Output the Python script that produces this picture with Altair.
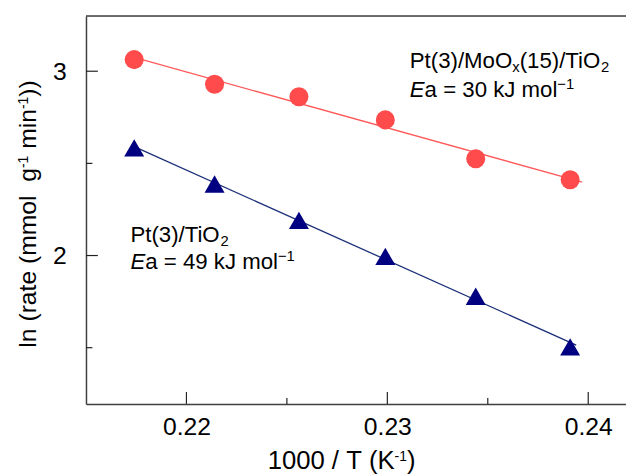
import altair as alt
import pandas as pd

# ---------------- data ----------------
inv_T = [0.2174, 0.2214, 0.2256, 0.2299, 0.2344, 0.2391]          # 1000 / T (K^-1)
ln_rate_moox = [3.063, 2.929, 2.861, 2.736, 2.525, 2.411]          # Pt(3)/MoOx(15)/TiO2
ln_rate_tio2 = [2.584, 2.388, 2.191, 1.995, 1.779, 1.504]          # Pt(3)/TiO2
fit_extent_moox = [0.2174, 0.2397]
fit_extent_tio2 = [0.2174, 0.2394]
x_major = [0.22, 0.23, 0.24]
x_minor = [0.225, 0.235]
y_major = [2, 3]
y_minor = [1.5, 2.5]
x_domain = [0.215, 0.24188]
y_domain = [1.195, 3.3]

# ---------------- layout / style ----------------
W, H = 547, 393
FONT = "Liberation Sans"
RED, RED_LINE = "#FF4B4B", "#FF5A5A"
BLUE, BLUE_LINE = "#000080", "#1A2F78"
FRAME = "#404040"

# Arial / Liberation Sans advance widths (units per 1000)
AW = {' ': 278, '(': 333, ')': 333, '/': 278, '.': 278, '=': 584, '-': 333, '\u2212': 584,
      '0': 556, '1': 556, '2': 556, '3': 556, '4': 556, '5': 556, '9': 556,
      'E': 667, 'J': 500, 'K': 667, 'M': 833, 'O': 778, 'P': 667, 'T': 611,
      'a': 556, 'e': 556, 'g': 556, 'i': 222, 'k': 500, 'l': 222, 'm': 833,
      'n': 556, 'o': 556, 'r': 333, 't': 278, 'x': 500}


def tw(s, size):
    return sum(AW.get(c, 556) for c in s) * size / 1000.0


def rich(pieces, x, y, angle=0):
    """pieces: list of (text, size, italic, dy). Each word is drawn as its own
    text mark so that no whitespace is collapsed by the SVG renderer."""
    layers = []
    off = 0.0
    for text, size, italic, dy in pieces:
        word = ""
        start = off
        for ch in text + "\0":
            if ch in (" ", "\0"):
                if word:
                    kw = dict(text=word, align="left", baseline="alphabetic", font=FONT,
                              fontSize=size, fontStyle="italic" if italic else "normal",
                              color="#000000", dx=start, dy=dy)
                    if angle:
                        kw["angle"] = angle
                    layers.append(
                        alt.Chart(alt.Data(values=[{}])).mark_text(**kw).encode(
                            x=alt.value(x), y=alt.value(y)))
                    off = start + tw(word, size)
                    word = ""
                if ch == " ":
                    off += tw(" ", size)
                start = off
            else:
                word += ch
    return layers


xs = alt.Scale(domain=x_domain, nice=False, zero=False)
ys = alt.Scale(domain=y_domain, nice=False, zero=False)
xaxis = alt.Axis(values=x_major, format=".2f", title=None, grid=False, ticks=False, tickSize=0,
                 labelFontSize=25, labelFont=FONT, labelColor="#000000", labelPadding=11,
                 domainColor=FRAME, domainWidth=1.5, labelFlush=False)
yaxis = alt.Axis(values=y_major, format="d", title=None, grid=False, ticks=False, tickSize=0,
                 labelFontSize=25, labelFont=FONT, labelColor="#000000", labelPadding=20,
                 domainColor=FRAME, domainWidth=1.5)

df_moox = pd.DataFrame({"x": inv_T, "y": ln_rate_moox})
df_tio2 = pd.DataFrame({"x": inv_T, "y": ln_rate_tio2})

X = alt.X("x:Q", scale=xs, axis=xaxis)
Y = alt.Y("y:Q", scale=ys, axis=yaxis)

line_moox = alt.Chart(df_moox).transform_regression(
    "x", "y", extent=fit_extent_moox).mark_line(color=RED_LINE, strokeWidth=1.3).encode(x=X, y=Y)
line_tio2 = alt.Chart(df_tio2).transform_regression(
    "x", "y", extent=fit_extent_tio2).mark_line(color=BLUE_LINE, strokeWidth=1.3).encode(x=X, y=Y)

pts_moox = alt.Chart(df_moox).mark_point(shape="circle", filled=True, size=372,
                                         color=RED, opacity=1).encode(x=X, y=Y)
pts_tio2 = alt.Chart(df_tio2).mark_point(shape="triangle-up", filled=True, size=410,
                                         color=BLUE, opacity=1).encode(x=X, y=Y)

# inward ticks
xt_major = alt.Chart(pd.DataFrame({"x": x_major})).mark_rule(color="#222222", strokeWidth=1.2).encode(
    x=X, y=alt.value(H), y2=alt.value(H - 12))
xt_minor = alt.Chart(pd.DataFrame({"x": x_minor})).mark_rule(color="#222222", strokeWidth=1.2).encode(
    x=X, y=alt.value(H), y2=alt.value(H - 6))
yt_major = alt.Chart(pd.DataFrame({"y": y_major})).mark_rule(color="#222222", strokeWidth=1.2).encode(
    y=Y, x=alt.value(0), x2=alt.value(12))
yt_minor = alt.Chart(pd.DataFrame({"y": y_minor})).mark_rule(color="#222222", strokeWidth=1.2).encode(
    y=Y, x=alt.value(0), x2=alt.value(6.5))

top_frame = alt.Chart(alt.Data(values=[{}])).mark_rule(color=FRAME, strokeWidth=1.5).encode(
    x=alt.value(0), x2=alt.value(W), y=alt.value(0))

AS = 22.5   # annotation font size
SS = 15     # sub / superscript size
texts = []
texts += rich([("Pt(3)/MoO", AS, False, 0), ("x", SS, False, 4),
               ("(15)/TiO", AS, False, 0), ("2", SS, False, 4)], 328, 53)
texts += rich([("E", AS, True, 0), ("a = 30 kJ mol", AS, False, 0),
               ("\u22121", SS, False, -8)], 328, 82.5)
texts += rich([("Pt(3)/TiO", AS, False, 0), ("2", SS, False, 4)], 45, 229)
texts += rich([("E", AS, True, 0), ("a = 49 kJ mol", AS, False, 0),
               ("\u22121", SS, False, -8)], 45, 256.5)
# axis titles
texts += rich([("1000 / T (K", 26, False, 0), ("-1", 14, False, -8), (")", 26, False, 0)], 184, 459)
texts += rich([("ln (rate (mmol  g", 25, False, 0), ("-1", 14, False, -8), (" min", 25, False, 0),
               ("-1", 14, False, -8), ("))", 25, False, 0)], -51, 336, angle=270)

chart = alt.layer(
    line_moox, line_tio2, xt_major, xt_minor, yt_major, yt_minor, top_frame,
    pts_moox, pts_tio2, *texts
).properties(
    width=W, height=H,
    padding={"left": 79, "top": 5, "right": 0, "bottom": 70},
    autosize=alt.AutoSizeParams(type="none"),
).configure_view(stroke=None).configure(background="white")

chart.save("out.html", embed_options={"renderer": "svg", "actions": False})
